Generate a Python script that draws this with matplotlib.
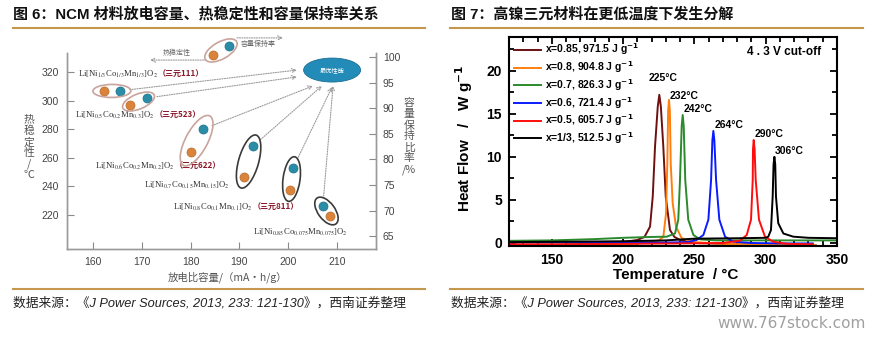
import numpy as np
import matplotlib
matplotlib.use("Agg")
import matplotlib.pyplot as plt
from matplotlib.patches import Ellipse
from matplotlib.lines import Line2D
from matplotlib.transforms import IdentityTransform
from matplotlib.ticker import MultipleLocator

# ---------------- data: left chart (NCM materials) ----------------
materials = [r'Li[Ni$_{1/3}$Co$_{1/3}$Mn$_{1/3}$]O$_2$',
             r'Li[Ni$_{0.5}$Co$_{0.2}$Mn$_{0.3}$]O$_2$',
             r'Li[Ni$_{0.6}$Co$_{0.2}$Mn$_{0.2}$]O$_2$',
             r'Li[Ni$_{0.7}$Co$_{0.15}$Mn$_{0.15}$]O$_2$',
             r'Li[Ni$_{0.8}$Co$_{0.1}$Mn$_{0.1}$]O$_2$',
             r'Li[Ni$_{0.85}$Co$_{0.075}$Mn$_{0.075}$]O$_2$']
material_tags = ['（三元111）', '（三元523）', '（三元622）', '', '（三元811）', '']
cap_thermal = [162.3, 167.6, 180.0, 191.0, 200.4, 208.6]      # x of orange dots
thermal = [306.7, 296.9, 264.0, 246.6, 237.5, 219.3]          # 热稳定性 / ℃
cap_retention = [165.5, 171.1, 182.5, 192.8, 201.0, 207.1]    # x of blue dots
retention = [93.4, 92.0, 85.9, 82.6, 78.3, 70.9]              # 容量保持比率 / %
label_x = [156.9, 156.3, 160.4, 170.5, 176.4, 192.8]
label_y = [318.6, 289.9, 254.3, 241.0, 225.6, 208.1]

# ---------------- data: right chart (DSC curves) ----------------
series_labels = [r'x=0.85, 971.5 J g$^{\mathbf{-1}}$', r'x=0.8, 904.8 J g$^{\mathbf{-1}}$',
                 r'x=0.7, 826.3 J g$^{\mathbf{-1}}$', r'x=0.6, 721.4 J g$^{\mathbf{-1}}$',
                 r'x=0.5, 605.7 J g$^{\mathbf{-1}}$', r'x=1/3, 512.5 J g$^{\mathbf{-1}}$']
peak_labels = ['225°C', '232°C', '242°C', '264°C', '290°C', '306°C']

T_085 = [120, 150, 180, 200, 210, 215, 218.9, 220.8, 222.4, 224.3, 225.4, 226.5, 228.2, 229.9, 232.9, 236, 240, 250, 280, 310, 335]
HF_085 = [-0.25, -0.2, -0.1, 0.1, 0.35, 0.7, 1.9, 5.4, 11.2, 15.8, 17.2, 15.8, 11.2, 5.4, 1.5, 0.7, 0.35, 0.0, -0.15, -0.2, -0.25]
T_08 = [120, 160, 200, 215, 225, 228.2, 230.1, 231, 231.6, 232.2, 232.8, 233.4, 234.8, 237.1, 241.1, 250, 270, 300, 335]
HF_08 = [-0.3, -0.3, -0.2, 0.0, 0.3, 0.7, 3.4, 9.2, 15.3, 16.6, 15.3, 9.2, 4.6, 1.9, 0.55, 0.1, -0.1, -0.2, -0.25]
T_07 = [120, 150, 180, 200, 220, 230.6, 236.4, 238.7, 239.9, 241.1, 241.8, 242.5, 243.6, 245.7, 249.3, 253.9, 265, 300, 350]
HF_07 = [0.25, 0.3, 0.45, 0.6, 0.7, 0.73, 1.1, 2.7, 7.3, 13.6, 14.85, 13.6, 7.3, 2.7, 0.93, 0.42, 0.3, 0.3, 0.3]
T_06 = [120, 160, 200, 230, 245, 251.6, 256.3, 259.8, 261.7, 262.6, 263.3, 264.0, 265.2, 267.5, 271.5, 277.3, 290, 310, 333]
HF_06 = [0.05, 0.1, 0.1, 0.05, 0.1, 0.35, 0.93, 2.7, 7.3, 11.9, 13.0, 11.9, 7.3, 2.7, 0.73, 0.15, 0.0, -0.05, -0.05]
T_05 = [120, 160, 200, 240, 270, 282, 286.7, 289.7, 290.9, 291.1, 291.6, 292.2, 293, 295.3, 299.5, 305.3, 315, 333]
HF_05 = [-0.15, -0.15, -0.1, -0.05, 0.0, 0.27, 0.93, 2.7, 7.3, 10.9, 11.95, 10.9, 7.3, 2.7, 0.73, 0.15, -0.1, -0.15]
T_033 = [120, 160, 200, 230, 250, 280, 300, 301.8, 303.7, 304.9, 305.5, 306.1, 306.7, 307.2, 308.8, 312.4, 319.4, 330, 350]
HF_033 = [0.1, 0.15, 0.2, 0.3, 0.5, 0.55, 0.6, 0.73, 1.5, 5.4, 9.1, 10.0, 9.1, 5.4, 2.3, 1.1, 0.73, 0.6, 0.55]

W, H = 872, 339
fig = plt.figure(figsize=(W / 100, H / 100), dpi=100)
fig.patch.set_facecolor('white')

SANS = ['Liberation Sans', 'Noto Sans CJK SC']
CJK = ['Noto Sans CJK SC', 'DejaVu Sans']
GOLD = '#c4974c'


def fx(px):
    return px / W


def fy(py):
    return 1 - py / H


# ---------------- headers / footers ----------------
fig.text(fx(13), fy(14), '图 6：NCM 材料放电容量、热稳定性和容量保持率关系', family=SANS,
         fontsize=10.8, fontweight='bold', va='center', ha='left', color='#111111')
fig.text(fx(451), fy(14), '图 7：高镍三元材料在更低温度下发生分解', family=SANS,
         fontsize=10.8, fontweight='bold', va='center', ha='left', color='#111111')
for x0, x1 in [(13, 425), (450, 863)]:
    fig.add_artist(Line2D([fx(x0), fx(x1)], [fy(28), fy(28)], color=GOLD, lw=1.5))
    fig.add_artist(Line2D([fx(x0), fx(x1)], [fy(289), fy(289)], color=GOLD, lw=1.5))
src = '数据来源：《J Power Sources, 2013, 233: 121-130》，西南证券整理'
fig.text(fx(13), fy(303), src, family=SANS, style='italic', fontsize=9.2, va='center', color='#222222')
fig.text(fx(451), fy(303), src, family=SANS, style='italic', fontsize=9.2, va='center', color='#222222')
fig.text(fx(866), fy(324), 'www.767stock.com', family='DejaVu Sans', fontsize=11,
         ha='right', va='center', color='#a0a0a0')

# ---------------- left chart ----------------
axL = fig.add_axes([fx(67), fy(249), (376 - 67) / W, (249 - 53) / H])
axL2 = axL.twinx()
axL.set_xlim(154.7, 218.0)
axL.set_ylim(196.2, 333.3)
axL2.set_ylim(62.5, 100.8)
axL.set_xticks([160, 170, 180, 190, 200, 210])
axL.set_yticks([220, 240, 260, 280, 300, 320])
axL2.set_yticks([65, 70, 75, 80, 85, 90, 95, 100])
for a in (axL, axL2):
    a.set_facecolor('none')
    a.spines['top'].set_visible(False)
    for s in ('left', 'right', 'bottom'):
        a.spines[s].set_color('#9a9a9a')
        a.spines[s].set_linewidth(1.0)
axL.tick_params(axis='both', direction='in', length=5, color='#8a8a8a', labelsize=7.5,
                labelcolor='#444444')
axL.tick_params(axis='y', pad=6)
axL.tick_params(axis='x', pad=6)
axL2.tick_params(axis='y', direction='in', length=5, color='#8a8a8a', labelsize=7.5,
                 labelcolor='#444444', pad=5)
for lab in axL.get_xticklabels() + axL.get_yticklabels() + axL2.get_yticklabels():
    lab.set_family('Liberation Sans')

ORANGE = '#d9843a'
BLUE = '#2b8ca8'
axL.plot(cap_thermal, thermal, 'o', color=ORANGE, ms=6.5, mec='#b8692a', mew=0.5, zorder=5)
axL2.plot(cap_retention, retention, 'o', color=BLUE, ms=6.5, mec='#1d6e86', mew=0.5, zorder=5)

# labels
for i in range(len(materials)):
    t = axL.text(label_x[i], label_y[i], materials[i], family='Liberation Serif',
                 math_fontfamily='stix', fontsize=6.2, color='#333333', va='center', ha='left')
    if material_tags[i]:
        axL.annotate(material_tags[i], xy=(1, 0.5), xycoords=t, va='center', ha='left',
                     family=CJK, fontsize=5.8, color='#8b1a2b', fontweight='bold')

axL.set_xlabel('放电比容量/（mA·h/g）', family=CJK, fontsize=7.5, color='#555555')
axL.xaxis.set_label_coords(0.518, -0.143)
axL.xaxis.label.set_va('center')
axL.text(-0.123, 0.518, '热\n稳\n定\n性\n/\n℃', transform=axL.transAxes, family=CJK,
         fontsize=7.8, color='#555555', ha='center', va='center', linespacing=1.1)
axL.text(1.107, 0.574, '容\n量\n保\n持\n比\n率\n/%', transform=axL.transAxes, family=CJK,
         fontsize=7.8, color='#555555', ha='center', va='center', linespacing=1.1)

# ellipses around each orange/blue pair (computed from the data positions)
ell_len = [38, 34, 56, 55, 45, 32]
ell_h = [13, 15, 22, 20, 17, 17]
ell_col = ['#c9a49c', '#c9a49c', '#c9a49c', '#3a3a3a', '#3a3a3a', '#3a3a3a']
targets_ax = [(0.744, 0.913), (0.744, 0.878), (0.796, 0.832), (0.825, 0.832), (0.858, 0.827), (0.861, 0.832)]
for i in range(len(materials)):
    p1 = axL.transData.transform((cap_thermal[i], thermal[i]))
    p2 = axL2.transData.transform((cap_retention[i], retention[i]))
    c = (p1 + p2) / 2
    d = p2 - p1
    ang = np.degrees(np.arctan2(d[1], d[0]))
    fig.add_artist(Ellipse(c, ell_len[i], ell_h[i], angle=ang, transform=IdentityTransform(),
                           fill=False, ec=ell_col[i], lw=1.2, zorder=4))
    tgt = axL.transAxes.transform(targets_ax[i])
    v = tgt - p2
    st = p2 + v / np.hypot(*v) * 10
    axL.annotate('', xy=tgt, xycoords='figure pixels', xytext=st, textcoords='figure pixels',
                 arrowprops=dict(arrowstyle='->,head_length=0.3,head_width=0.15',
                                 color='#9a9a9a', lw=0.8, linestyle=(0, (1, 1.2)),
                                 shrinkA=0, shrinkB=0), annotation_clip=False)

# "best performance" ellipse
axL.add_patch(Ellipse((0.858, 0.913), 0.1845, 0.1224, transform=axL.transAxes,
                      fc='#238bb8', ec='#1b6f95', lw=0.6, clip_on=False, zorder=6))
axL.text(0.858, 0.913, '最优性能', transform=axL.transAxes, family=CJK, fontsize=4.5,
         color='white', ha='center', va='center', zorder=7)

# key at top (thermal stability / capacity retention)
axL.plot([0.4725], [0.99], 'o', color=ORANGE, ms=6.5, mec='#b8692a', mew=0.5,
         transform=axL.transAxes, clip_on=False, zorder=5)
axL.plot([0.524], [1.036], 'o', color=BLUE, ms=6.5, mec='#1d6e86', mew=0.5,
         transform=axL.transAxes, clip_on=False, zorder=5)
k1 = axL.transAxes.transform((0.4725, 0.99))
k2 = axL.transAxes.transform((0.524, 1.036))
fig.add_artist(Ellipse((k1 + k2) / 2, 36, 17, angle=np.degrees(np.arctan2(*(k2 - k1)[::-1])),
                       transform=IdentityTransform(), fill=False, ec='#c9a49c', lw=1.2))
for (xa, ya), (xb, yb) in [((0.45, 0.964), (0.269, 0.964)), ((0.55, 1.077), (0.699, 1.077))]:
    axL.annotate('', xy=(xb, yb), xycoords='axes fraction', xytext=(xa, ya),
                 textcoords='axes fraction',
                 arrowprops=dict(arrowstyle='->,head_length=0.3,head_width=0.15', color='#9a9a9a',
                                 lw=0.8, linestyle=(0, (1, 1.2)), shrinkA=0, shrinkB=0),
                 annotation_clip=False)
axL.text(0.356, 1.0, '热稳定性', transform=axL.transAxes, family=CJK, fontsize=5,
         color='#666666', ha='center', va='center')
axL.text(0.618, 1.046, '容量保持率', transform=axL.transAxes, family=CJK, fontsize=5,
         color='#666666', ha='center', va='center')

# ---------------- right chart ----------------
axR = fig.add_axes([fx(509), fy(246), (837 - 509) / W, (246 - 37) / H])
curves = [(T_085, HF_085), (T_08, HF_08), (T_07, HF_07), (T_06, HF_06), (T_05, HF_05), (T_033, HF_033)]
colors = ['#6e1010', '#ff7f0e', '#2b8a2b', '#0a1cff', '#ff0d0d', '#000000']
for (T, HF), col, lab in zip(curves, colors, series_labels):
    axR.plot(T, HF, color=col, lw=1.4, label=lab)
axR.set_xlim(120, 350)
axR.set_ylim(-0.35, 23.9)
axR.xaxis.set_major_locator(MultipleLocator(50))
axR.xaxis.set_minor_locator(MultipleLocator(10))
axR.yaxis.set_major_locator(MultipleLocator(5))
axR.yaxis.set_minor_locator(MultipleLocator(2.5))
axR.tick_params(which='both', direction='in', top=True, right=True, width=1.3, labelsize=10, pad=5)
axR.tick_params(which='major', length=5)
axR.tick_params(which='minor', length=3.5)
for s in axR.spines.values():
    s.set_linewidth(1.5)
for lab in axR.get_xticklabels() + axR.get_yticklabels():
    lab.set_fontweight('bold')
    lab.set_family('Liberation Sans')

offsets = [(3, 12), (11, 3), (11, 4), (11, 4), (11, 4), (11, 4)]
for (T, HF), txt, off in zip(curves, peak_labels, offsets):
    k = int(np.argmax(HF))
    axR.annotate(txt, xy=(T[k], HF[k]), xytext=off, textcoords='offset points', ha='center',
                 va='center', fontsize=7.5, fontweight='bold', family='Liberation Sans')
axR.text(0.838, 0.928, '4 . 3 V cut-off', transform=axR.transAxes, ha='center', va='center',
         fontsize=8.5, fontweight='bold', family='Liberation Sans')
leg = axR.legend(loc='upper left', bbox_to_anchor=(0.0, 1.0), frameon=False, handlelength=2.6,
                 handletextpad=0.4, labelspacing=0.18, borderpad=0.35, borderaxespad=0.1,
                 prop={'family': 'Liberation Sans', 'weight': 'bold', 'size': 7.5})
for h in leg.get_lines():
    h.set_linewidth(1.4)
axR.set_xlabel('Temperature  / °C', fontsize=11, fontweight='bold', family='Liberation Sans')
axR.xaxis.set_label_coords(0.509, -0.139)
axR.xaxis.label.set_va('center')
axR.set_ylabel(r'Heat Flow   /   W g$^{\mathbf{-1}}$', fontsize=11, fontweight='bold',
               family='Liberation Sans')
axR.yaxis.set_label_coords(-0.137, 0.517)
axR.yaxis.label.set_va('center')

fig.savefig('out.png', dpi=100, facecolor='white')
